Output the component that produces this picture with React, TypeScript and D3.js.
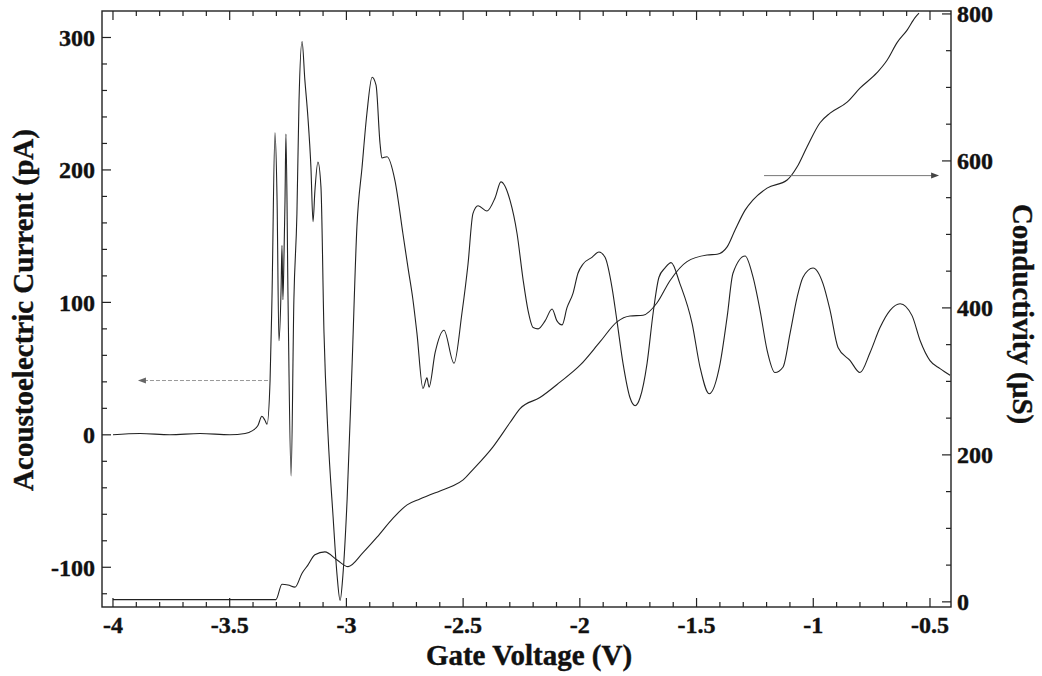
import React from "react";
import * as d3 from "d3";

// acoustoelectric current trace (left axis)
const gateV = [
  -4.0, -3.884, -3.756, -3.627, -3.499, -3.434, -3.404, -3.379, -3.362, -3.349, -3.34, -3.327, -3.319,
  -3.306, -3.297, -3.289, -3.28, -3.276, -3.272, -3.267, -3.263, -3.259, -3.25, -3.237, -3.225, -3.212,
  -3.203, -3.19, -3.178, -3.165, -3.152, -3.143, -3.135, -3.122, -3.109, -3.096, -3.079, -3.057, -3.04,
  -3.027, -3.015, -2.997, -2.976, -2.955, -2.933, -2.912, -2.89, -2.873, -2.856, -2.848, -2.826, -2.792,
  -2.758, -2.736, -2.715, -2.698, -2.672, -2.655, -2.646, -2.62, -2.582, -2.539, -2.505, -2.479, -2.458,
  -2.436, -2.398, -2.363, -2.338, -2.299, -2.269, -2.243, -2.222, -2.2, -2.179, -2.149, -2.119, -2.098,
  -2.076, -2.055, -2.029, -2.008, -1.986, -1.948, -1.918, -1.892, -1.862, -1.841, -1.815, -1.785, -1.763,
  -1.742, -1.712, -1.686, -1.661, -1.635, -1.609, -1.571, -1.519, -1.485, -1.446, -1.399, -1.369, -1.344,
  -1.292, -1.258, -1.228, -1.198, -1.164, -1.13, -1.099, -1.069, -1.044, -1.001, -0.958, -0.928, -0.894,
  -0.842, -0.8, -0.757, -0.714, -0.671, -0.628, -0.577, -0.542, -0.5, -0.457, -0.414,
];
const currentPA = [
  0, 1, 0, 1, 0, 1, 3, 7, 14, 11, 8, 41, 102,
  228, 177, 71, 109, 143, 102, 139, 177, 227, 102, -31, 102, 167,
  252, 297, 268, 240, 202, 161, 184, 206, 187, 77, 1, -62, -106,
  -125, -106, -49, 51, 157, 202, 243, 270, 264, 220, 209, 210, 192,
  152, 126, 102, 77, 35, 43, 36, 62, 79, 54, 92, 129, 167,
  173, 169, 179, 191, 177, 152, 117, 94, 81, 80, 86, 95, 86,
  83, 96, 107, 122, 129, 134, 138, 134, 111, 86, 54, 28, 22,
  28, 54, 92, 119, 126, 130, 114, 84, 51, 31, 54, 89, 122,
  135, 119, 94, 64, 47, 51, 77, 104, 119, 126, 114, 94, 66,
  56, 47, 62, 81, 94, 99, 90, 71, 56, 50, 45,
];

// conductivity trace (right axis)
const sigmaV = [
  -4.0, -3.627, -3.302, -3.276, -3.25, -3.22, -3.19, -3.165, -3.135, -3.092, -3.04, -2.993, -2.929,
  -2.869, -2.8, -2.74, -2.685, -2.599, -2.543, -2.5, -2.458, -2.372, -2.299, -2.256, -2.171, -2.085,
  -1.999, -1.913, -1.841, -1.785, -1.729, -1.669, -1.614, -1.541, -1.455, -1.412, -1.369, -1.335, -1.292,
  -1.258, -1.198, -1.112, -1.069, -1.027, -0.971, -0.928, -0.855, -0.8, -0.727, -0.684, -0.641, -0.598,
  -0.564, -0.547,
];
const sigmaUS = [
  3, 3, 3, 24, 23, 20, 39, 50, 64, 68, 57, 48, 67,
  88, 114, 132, 140, 151, 158, 166, 180, 211, 244, 263, 278, 299,
  322, 354, 381, 389, 390, 407, 437, 463, 472, 473, 483, 506, 533,
  547, 563, 574, 592, 619, 652, 665, 680, 699, 720, 737, 761, 778,
  795, 801,
];

const xTicks = [-4, -3.5, -3, -2.5, -2, -1.5, -1, -0.5];
const leftTicks = [-100, 0, 100, 200, 300];
const rightTicks = [0, 200, 400, 600, 800];

const W = 1042;
const H = 676;
const box = { left: 102, right: 951, top: 11, bottom: 607 };
const font = "'Liberation Serif', 'Times New Roman', serif";

export default function App() {
  const x = d3.scaleLinear().domain([-4.047, -0.41]).range([box.left, box.right]);
  const yL = d3.scaleLinear().domain([-130, 320]).range([box.bottom, box.top]);
  const yR = d3.scaleLinear().domain([-7, 804]).range([box.bottom, box.top]);

  const lineI = d3
    .line<number>()
    .x((d, i) => x(gateV[i]))
    .y((d) => yL(d))
    .curve(d3.curveMonotoneX);
  const lineS = d3
    .line<number>()
    .x((d, i) => x(sigmaV[i]))
    .y((d) => yR(d))
    .curve(d3.curveMonotoneX);

  const xMinor = d3.range(0, 36).map((i) => -4 + i * 0.1);
  const lMinor = d3.range(0, 22).map((i) => -120 + i * 20);
  const rMinor = d3.range(0, 17).map((i) => i * 50);
  const isMajor = (v: number, step: number) => Math.abs(v / step - Math.round(v / step)) < 1e-6;

  // direction arrows
  const la = { y: yL(41), x0: x(-3.336), x1: x(-3.893) };
  const ra = { y: yR(580), x0: x(-1.211), x1: x(-0.461) };

  return (
    <div style={{ position: "absolute", left: 0, top: 0 }}>
      <svg width={W} height={H} style={{ background: "#fff", display: "block" }}>
        <rect
          x={box.left}
          y={box.top}
          width={box.right - box.left}
          height={box.bottom - box.top}
          fill="none"
          stroke="#222"
          strokeWidth={1.4}
        />

        {/* x ticks, bottom and top */}
        {xMinor.map((v, i) => {
          const len = isMajor(v, 0.5) ? 9 : 5;
          return (
            <g key={"xt" + i} stroke="#222" strokeWidth={1.2}>
              <line x1={x(v)} x2={x(v)} y1={box.bottom} y2={box.bottom - len} />
              <line x1={x(v)} x2={x(v)} y1={box.top} y2={box.top + len} />
            </g>
          );
        })}
        {lMinor.map((v, i) => {
          const len = isMajor(v, 100) ? 9 : 5;
          return (
            <line key={"lt" + i} x1={box.left} x2={box.left + len} y1={yL(v)} y2={yL(v)} stroke="#222" strokeWidth={1.2} />
          );
        })}
        {rMinor.map((v, i) => {
          const len = isMajor(v, 200) ? 9 : 5;
          return (
            <line key={"rt" + i} x1={box.right} x2={box.right - len} y1={yR(v)} y2={yR(v)} stroke="#222" strokeWidth={1.2} />
          );
        })}

        <g fontFamily={font} fontWeight="bold" fontSize={24} fill="#111" stroke="#111" strokeWidth={0.4}>
          {xTicks.map((v) => (
            <text key={"xl" + v} x={x(v)} y={633} textAnchor="middle">
              {String(v)}
            </text>
          ))}
          {leftTicks.map((v) => (
            <text key={"ll" + v} x={95} y={yL(v)} dy="0.35em" textAnchor="end">
              {String(v)}
            </text>
          ))}
          {rightTicks.map((v) => (
            <text key={"rl" + v} x={957} y={yR(v)} dy="0.35em" textAnchor="start">
              {String(v)}
            </text>
          ))}
        </g>

        <g fontFamily={font} fontWeight="bold" fontSize={29} fill="#111" stroke="#111" strokeWidth={0.4}>
          <text x={529} y={665} textAnchor="middle">
            Gate Voltage (V)
          </text>
          <text transform="translate(33,310) rotate(-90)" textAnchor="middle">
            Acoustoelectric Current (pA)
          </text>
          <text transform="translate(1013,314) rotate(90)" textAnchor="middle">
            Conductivity (µS)
          </text>
        </g>

        <path d={lineS(sigmaUS) || ""} fill="none" stroke="#222" strokeWidth={1.1} />
        <path d={lineI(currentPA) || ""} fill="none" stroke="#222" strokeWidth={1.1} />

        <line x1={la.x0} x2={la.x1 + 6} y1={la.y} y2={la.y} stroke="#999" strokeWidth={1} strokeDasharray="4 2" />
        <path d={`M${la.x1},${la.y}L${la.x1 + 8},${la.y - 3}L${la.x1 + 8},${la.y + 3}Z`} fill="#666" />
        <line x1={ra.x0} x2={ra.x1 - 6} y1={ra.y} y2={ra.y} stroke="#777" strokeWidth={1} />
        <path d={`M${ra.x1},${ra.y}L${ra.x1 - 8},${ra.y - 3}L${ra.x1 - 8},${ra.y + 3}Z`} fill="#444" />
      </svg>
    </div>
  );
}
